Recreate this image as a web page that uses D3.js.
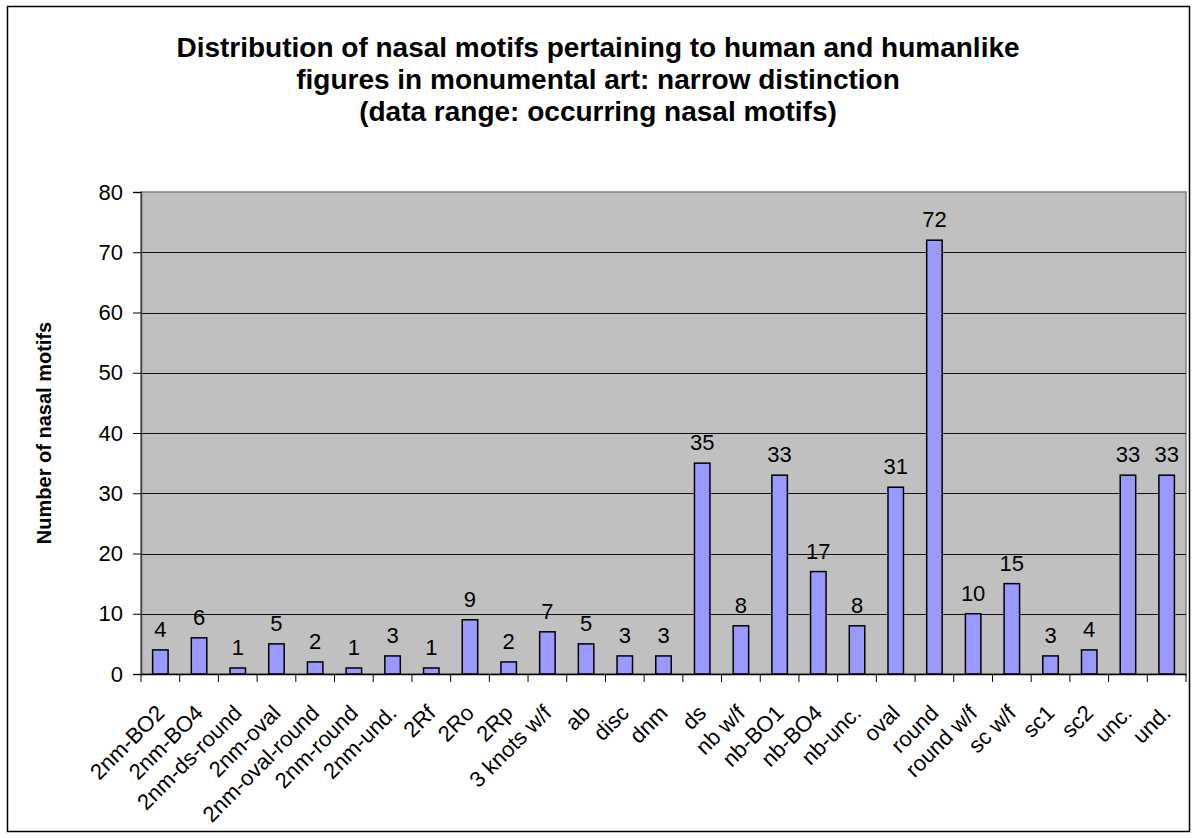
<!DOCTYPE html>
<html>
<head>
<meta charset="utf-8">
<script src="https://cdn.jsdelivr.net/npm/d3@7"></script>
<style>
  body { margin: 0; background: #fff; }
  svg { display: block; font-family: "Liberation Sans", Arial, sans-serif; }
</style>
</head>
<body>
<svg id="chart" width="1194" height="838"></svg>
<script>
const categories = ["2nm-BO2","2nm-BO4","2nm-ds-round","2nm-oval","2nm-oval-round","2nm-round","2nm-und.","2Rf","2Ro","2Rp","3 knots w/f","ab","disc","dnm","ds","nb w/f","nb-BO1","nb-BO4","nb-unc.","oval","round","round w/f","sc w/f","sc1","sc2","unc.","und."];
const values = [4,6,1,5,2,1,3,1,9,2,7,5,3,3,35,8,33,17,8,31,72,10,15,3,4,33,33];
const yTicks = [0,10,20,30,40,50,60,70,80];
const titleLines = ["Distribution of nasal motifs pertaining to human and humanlike","figures in monumental art: narrow distinction","(data range: occurring nasal motifs)"];
const yTitle = "Number of nasal motifs";

const svg = d3.select("#chart");
const L = 141, R = 1186, T = 192, B = 674;

// outer frame
svg.append("rect").attr("x", 7.5).attr("y", 6.5).attr("width", 1182).attr("height", 825)
  .attr("fill", "#fff").attr("stroke", "#000").attr("stroke-width", 1.5);

const x = d3.scaleBand().domain(categories).range([L, R]).paddingInner(0).paddingOuter(0);
const y = d3.scaleLinear().domain([0, 80]).range([B, T]);

// plot background
svg.append("rect").attr("x", L).attr("y", T).attr("width", R - L).attr("height", B - T)
  .attr("fill", "#C0C0C0").attr("stroke", "#808080").attr("stroke-width", 1.5);

// gridlines
svg.append("g").selectAll("line").data(yTicks.filter(d => d > 0 && d < 80)).join("line")
  .attr("x1", L).attr("x2", R).attr("y1", d => Math.round(y(d)) + 0.5).attr("y2", d => Math.round(y(d)) + 0.5)
  .attr("stroke", "#111").attr("stroke-width", 1.2);

// bars
const bw = x.bandwidth() * 0.4;
svg.append("g").selectAll("rect").data(values).join("rect")
  .attr("x", (d, i) => x(categories[i]) + (x.bandwidth() - bw) / 2)
  .attr("y", d => y(d))
  .attr("width", bw)
  .attr("height", d => B - y(d))
  .attr("fill", "#9999FF").attr("stroke", "#000").attr("stroke-width", 1.5);

// value labels
svg.append("g").selectAll("text").data(values).join("text")
  .attr("x", (d, i) => x(categories[i]) + x.bandwidth() / 2)
  .attr("y", d => y(d) - 13)
  .attr("text-anchor", "middle").attr("font-size", 22).attr("fill", "#000")
  .text(d => d);

// y axis
const yAxis = svg.append("g").attr("transform", `translate(${L},0)`)
  .call(d3.axisLeft(y).tickValues(yTicks).tickSize(8).tickPadding(10).tickFormat(d3.format("d")));
yAxis.select(".domain").attr("stroke", "#404040").attr("stroke-width", 1.5);
yAxis.selectAll(".tick line").attr("stroke", "#000");
yAxis.selectAll(".tick text").attr("font-size", 22).attr("font-family", "Liberation Sans, Arial, sans-serif").attr("fill", "#000");

// x axis
const xAxis = svg.append("g").attr("transform", `translate(0,${B})`)
  .call(d3.axisBottom(x).tickSize(0).tickFormat(""));
xAxis.select(".domain").attr("stroke", "#000").attr("stroke-width", 1.5);
xAxis.selectAll(".tick").remove();
const bounds = categories.map(c => x(c)).concat([R]);
svg.append("g").selectAll("line").data(bounds).join("line")
  .attr("x1", d => d).attr("x2", d => d).attr("y1", B).attr("y2", B + 8)
  .attr("stroke", "#000").attr("stroke-width", 1);

svg.append("g").selectAll("text").data(categories).join("text")
  .attr("transform", d => `translate(${x(d) + x.bandwidth() / 2},${B + 35}) rotate(-45)`)
  .attr("text-anchor", "end").attr("dy", "0.35em").attr("font-size", 22).attr("fill", "#000")
  .text(d => d);

// y title
svg.append("text").attr("transform", `translate(51,${(T + B) / 2}) rotate(-90)`)
  .attr("text-anchor", "middle").attr("font-size", 20).attr("font-weight", "bold").text(yTitle);

// title
svg.append("g").selectAll("text").data(titleLines).join("text")
  .attr("x", 598).attr("y", (d, i) => 57 + i * 32)
  .attr("text-anchor", "middle").attr("font-size", 28).attr("font-weight", "bold").text(d => d);
</script>
</body>
</html>
